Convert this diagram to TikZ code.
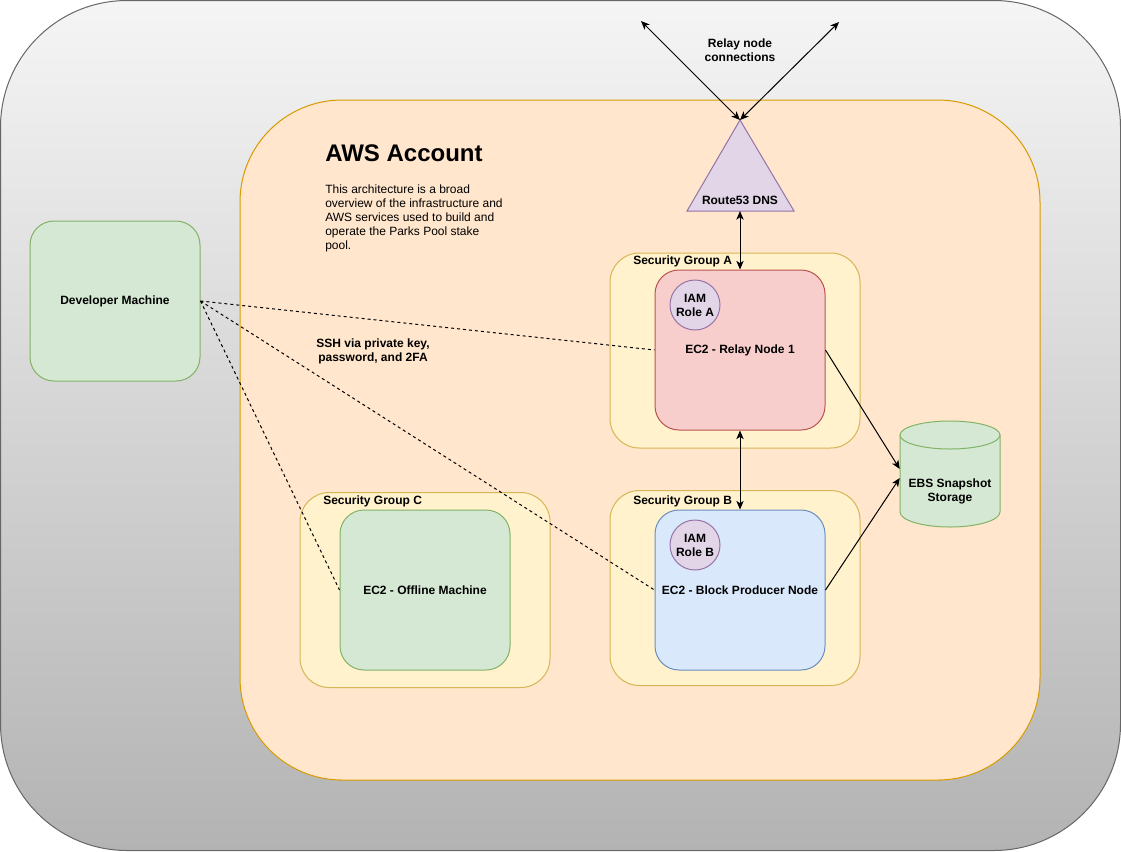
\documentclass[tikz,border=0pt]{standalone}
\usepackage{fontspec}
\setmainfont{Liberation Sans}
\usepackage{xcolor}
\usepackage{tikz}
\usetikzlibrary{arrows.meta,positioning,calc}

\definecolor{outerTop}{HTML}{F5F5F5}
\definecolor{outerBot}{HTML}{B3B3B3}
\definecolor{outerLine}{HTML}{666666}
\definecolor{awsFill}{HTML}{FFE6CC}
\definecolor{awsLine}{HTML}{D79B00}
\definecolor{sgFill}{HTML}{FFF2CC}
\definecolor{sgLine}{HTML}{D6B656}
\definecolor{relayFill}{HTML}{F8CECC}
\definecolor{relayLine}{HTML}{B85450}
\definecolor{bpFill}{HTML}{DAE8FC}
\definecolor{bpLine}{HTML}{6C8EBF}
\definecolor{greenFill}{HTML}{D5E8D4}
\definecolor{greenLine}{HTML}{82B366}
\definecolor{roleFill}{HTML}{E1D5E7}
\definecolor{roleLine}{HTML}{9673A6}

\tikzset{
	machine/.style={draw, rounded corners=18pt, line width=0.75pt, minimum width=127.5pt, minimum height=120pt, inner sep=0pt, align=center, font=\bfseries\fontsize{9}{10.5}\selectfont},
	secgroup/.style={draw=sgLine, fill=sgFill, rounded corners=22pt, line width=0.75pt, minimum width=187.5pt, minimum height=146.25pt},
	grouplabel/.style={anchor=west, inner sep=0pt, font=\bfseries\fontsize{9}{10.5}\selectfont},
	role/.style={circle, draw=roleLine, fill=roleFill, line width=0.75pt, minimum size=37.5pt, inner sep=0pt, align=center, font=\bfseries\fontsize{9}{10.5}\selectfont},
	txt/.style={inner sep=0pt, align=center, font=\bfseries\fontsize{9}{10.5}\selectfont},
	link/.style={line width=0.75pt, {Stealth[length=6.5pt,width=5.5pt,inset=1.8pt]}-{Stealth[length=6.5pt,width=5.5pt,inset=1.8pt]}},
	feed/.style={line width=0.75pt, -{Stealth[length=6.5pt,width=5.5pt,inset=1.8pt]}},
	ssh/.style={line width=0.75pt, dash pattern=on 2.25pt off 2.25pt},
}

\begin{document}
\begin{tikzpicture}[x=0.75pt,y=-0.75pt]
	\useasboundingbox (0,0) rectangle (1121,851);
	% outer area and account
	\path[top color=outerTop, bottom color=outerBot, draw=outerLine, line width=0.75pt, rounded corners=95pt] (0.5,0.5) rectangle (1120.5,850.5);
	\node[draw=awsLine, fill=awsFill, line width=0.75pt, rounded corners=76.5pt, minimum width=600pt, minimum height=510pt] (aws) at (640,440) {};
	\node[anchor=west, inner sep=0pt, font=\bfseries\fontsize{18}{21}\selectfont] (awsTitle) at (325,153) {AWS Account};
	\node[anchor=north west, inner sep=0pt, align=left, font=\fontsize{9}{10.5}\selectfont] (awsText) at (325,185) {This architecture is a broad\\overview of the infrastructure and\\AWS services used to build and\\operate the Parks Pool stake\\pool.};

	% developer
	\node[machine, draw=greenLine, fill=greenFill, minimum height=120pt] (dev) at (115,301) {Developer Machine};

	% security groups
	\node[secgroup] (sgA) at (735,350.5) {};
	\node[secgroup] (sgB) at (735,588) {};
	\node[secgroup] (sgC) at (425,590) {};
	\node[grouplabel] at (633,261) {Security Group A};
	\node[grouplabel] at (633,501) {Security Group B};
	\node[grouplabel] at (323,501) {Security Group C};

	% ec2 machines
	\node[machine, draw=relayLine, fill=relayFill] (relay) at (740,350) {EC2 - Relay Node 1};
	\node[machine, draw=bpLine, fill=bpFill] (bp) at (740,590) {EC2 - Block Producer Node};
	\node[machine, draw=greenLine, fill=greenFill] (offline) at (425,590) {EC2 - Offline Machine};
	\node[role] (roleA) at (695,305) {IAM\\Role A};
	\node[role] (roleB) at (695,545) {IAM\\Role B};

	% route53
	\coordinate (dnsTop) at (740,120);
	\coordinate (dnsBase) at (740,211);
	\draw[draw=roleLine, fill=roleFill, line width=0.75pt] (dnsTop) -- (687,211) -- (794,211) -- cycle;
	\node[txt] (dns) at (740,200) {Route53 DNS};

	% ebs storage
	\draw[draw=greenLine, fill=greenFill, line width=0.75pt] (900,435) -- (900,512) arc[start angle=180, end angle=360, x radius=37.5pt, y radius=11.25pt] -- (1000,435) arc[start angle=0, end angle=180, x radius=37.5pt, y radius=10.5pt] -- cycle;
	\draw[draw=greenLine, line width=0.75pt] (900,435) arc[start angle=180, end angle=360, x radius=37.5pt, y radius=10.5pt];
	\node[minimum width=75pt, minimum height=80.25pt, inner sep=0pt] (ebs) at (950,473.5) {};
	\node[txt] at (950,491) {EBS Snapshot\\Storage};

	% relay peers
	\coordinate (peerA) at (641,21);
	\coordinate (peerB) at (839,22);
	\draw[link] (peerA) -- (dnsTop);
	\draw[link] (peerB) -- (dnsTop);
	\node[txt] at (740,50) {Relay node\\connections};

	\draw[link] (dnsBase) -- (relay.north);
	\draw[link] (relay.south) -- (bp.north);
	\draw[feed] (relay.east) -- ($(ebs.west)+(0,-4.5)$);
	\draw[feed] (bp.east) -- ($(ebs.west)+(0,4.5)$);

	% ssh access
	\draw[ssh] (dev.east) -- (relay.west);
	\draw[ssh] (dev.east) -- (bp.west);
	\draw[ssh] (dev.east) -- (offline.west);
	\node[txt] at (373,351) {SSH via private key,\\password, and 2FA};
\end{tikzpicture}
\end{document}
